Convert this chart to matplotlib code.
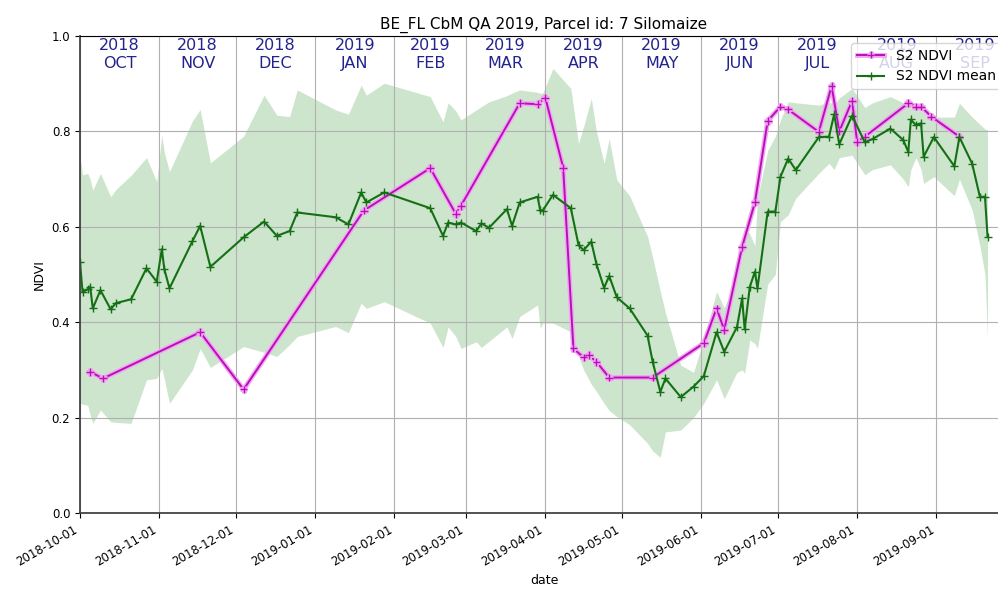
import matplotlib
matplotlib.use('Agg')
import matplotlib.pyplot as plt
import matplotlib.dates as mdates
import matplotlib.patheffects as pe
import pandas as pd

# S2 NDVI mean of the parcel, with the spread band around it
mean_dates = ['2018-10-01', '2018-10-02', '2018-10-04', '2018-10-05', '2018-10-06',
              '2018-10-09', '2018-10-13', '2018-10-15', '2018-10-21', '2018-10-27',
              '2018-10-31', '2018-11-02', '2018-11-03', '2018-11-05', '2018-11-14',
              '2018-11-17', '2018-11-21', '2018-12-04', '2018-12-12', '2018-12-17',
              '2018-12-22', '2018-12-25', '2019-01-09', '2019-01-14', '2019-01-19',
              '2019-01-21', '2019-01-28', '2019-02-15', '2019-02-20', '2019-02-22',
              '2019-02-25', '2019-02-27', '2019-03-05', '2019-03-07', '2019-03-10',
              '2019-03-17', '2019-03-19', '2019-03-22', '2019-03-29', '2019-03-30',
              '2019-03-31', '2019-04-04', '2019-04-11', '2019-04-14', '2019-04-16',
              '2019-04-19', '2019-04-21', '2019-04-24', '2019-04-26', '2019-04-29',
              '2019-05-04', '2019-05-11', '2019-05-13', '2019-05-16', '2019-05-18',
              '2019-05-24', '2019-05-29', '2019-06-02', '2019-06-07', '2019-06-10',
              '2019-06-15', '2019-06-17', '2019-06-18', '2019-06-20', '2019-06-22',
              '2019-06-23', '2019-06-27', '2019-06-30', '2019-07-02', '2019-07-05',
              '2019-07-08', '2019-07-17', '2019-07-21', '2019-07-23', '2019-07-25',
              '2019-07-30', '2019-08-04', '2019-08-07', '2019-08-14', '2019-08-19',
              '2019-08-21', '2019-08-22', '2019-08-24', '2019-08-26', '2019-08-27',
              '2019-08-31', '2019-09-08', '2019-09-10', '2019-09-15', '2019-09-18',
              '2019-09-20', '2019-09-21']
ndvi_mean = [0.526, 0.463, 0.469, 0.474, 0.429, 0.467, 0.427, 0.440, 0.448, 0.513,
             0.485, 0.553, 0.511, 0.471, 0.570, 0.602, 0.516, 0.578, 0.611, 0.581,
             0.591, 0.630, 0.620, 0.605, 0.672, 0.651, 0.672, 0.639, 0.581, 0.609,
             0.605, 0.609, 0.591, 0.607, 0.598, 0.637, 0.602, 0.651, 0.663, 0.635,
             0.634, 0.667, 0.639, 0.562, 0.551, 0.569, 0.522, 0.472, 0.497, 0.452,
             0.429, 0.372, 0.317, 0.254, 0.282, 0.243, 0.265, 0.287, 0.379, 0.338,
             0.390, 0.450, 0.385, 0.474, 0.506, 0.471, 0.632, 0.632, 0.705, 0.743,
             0.719, 0.788, 0.789, 0.836, 0.773, 0.833, 0.777, 0.784, 0.806, 0.782,
             0.757, 0.825, 0.813, 0.817, 0.747, 0.788, 0.727, 0.788, 0.732, 0.663,
             0.663, 0.579]
ndvi_upper = [0.747, 0.709, 0.712, 0.700, 0.677, 0.712, 0.663, 0.678, 0.708, 0.745,
              0.695, 0.792, 0.756, 0.716, 0.822, 0.846, 0.734, 0.790, 0.876, 0.834,
              0.831, 0.887, 0.845, 0.836, 0.897, 0.876, 0.901, 0.873, 0.820, 0.860,
              0.843, 0.824, 0.845, 0.852, 0.862, 0.875, 0.880, 0.887, 0.882, 0.880,
              0.880, 0.932, 0.890, 0.775, 0.810, 0.869, 0.800, 0.733, 0.785, 0.698,
              0.665, 0.580, 0.536, 0.465, 0.420, 0.310, 0.295, 0.365, 0.464, 0.430,
              0.500, 0.538, 0.600, 0.585, 0.560, 0.660, 0.760, 0.790, 0.824, 0.862,
              0.860, 0.855, 0.862, 0.855, 0.870, 0.890, 0.850, 0.860, 0.873, 0.860,
              0.855, 0.853, 0.850, 0.845, 0.840, 0.830, 0.830, 0.859, 0.830, 0.815,
              0.805, 0.803]
ndvi_lower = [0.230, 0.228, 0.226, 0.205, 0.188, 0.216, 0.191, 0.190, 0.188, 0.279,
              0.282, 0.303, 0.280, 0.230, 0.300, 0.345, 0.305, 0.349, 0.337, 0.328,
              0.353, 0.370, 0.391, 0.378, 0.440, 0.429, 0.443, 0.398, 0.347, 0.390,
              0.370, 0.345, 0.359, 0.347, 0.360, 0.390, 0.366, 0.412, 0.436, 0.387,
              0.398, 0.398, 0.380, 0.330, 0.300, 0.270, 0.255, 0.230, 0.215, 0.202,
              0.185, 0.146, 0.130, 0.117, 0.170, 0.174, 0.200, 0.230, 0.279, 0.240,
              0.295, 0.300, 0.293, 0.363, 0.355, 0.345, 0.480, 0.500, 0.611, 0.625,
              0.660, 0.712, 0.733, 0.720, 0.745, 0.750, 0.709, 0.720, 0.730, 0.700,
              0.684, 0.720, 0.745, 0.720, 0.691, 0.705, 0.665, 0.700, 0.635, 0.560,
              0.500, 0.363]

# S2 NDVI of the parcel itself
parcel_dates = ['2018-10-05', '2018-10-10', '2018-11-17', '2018-12-04', '2019-01-20',
                '2019-02-15', '2019-02-25', '2019-02-27', '2019-03-22', '2019-03-29',
                '2019-04-01', '2019-04-08', '2019-04-12', '2019-04-16', '2019-04-18',
                '2019-04-21', '2019-04-26', '2019-05-13', '2019-06-02', '2019-06-07',
                '2019-06-10', '2019-06-17', '2019-06-22', '2019-06-27', '2019-07-02',
                '2019-07-05', '2019-07-17', '2019-07-22', '2019-07-25', '2019-07-30',
                '2019-08-01', '2019-08-04', '2019-08-21', '2019-08-24', '2019-08-26',
                '2019-08-30', '2019-09-10']
ndvi_parcel = [0.296, 0.282, 0.379, 0.259, 0.634, 0.723, 0.627, 0.644, 0.859, 0.857,
               0.871, 0.724, 0.345, 0.326, 0.331, 0.317, 0.284, 0.284, 0.356, 0.429,
               0.384, 0.558, 0.651, 0.822, 0.852, 0.846, 0.799, 0.895, 0.800, 0.864,
               0.778, 0.789, 0.859, 0.852, 0.852, 0.831, 0.789]

month_starts = pd.date_range('2018-10-01', '2019-10-01', freq='MS')

mean_dates = pd.to_datetime(mean_dates)
parcel_dates = pd.to_datetime(parcel_dates)

fig = plt.figure(figsize=(9.98, 5.9), dpi=100)
ax = fig.add_axes([80 / 998, 77 / 590, 928 / 998, 477 / 590])

ax.fill_between(mean_dates, ndvi_lower, ndvi_upper, color='green', alpha=0.2, lw=0)
ax.plot(parcel_dates, ndvi_parcel, color='#b810b8', marker='+', ms=5.5, lw=1.4,
        label='S2 NDVI',
        path_effects=[pe.Stroke(linewidth=3.5, foreground='#f2a6f2'), pe.Normal()])
ax.plot(mean_dates, ndvi_mean, color='#157015', marker='+', ms=5.5, lw=1.5,
        label='S2 NDVI mean')

# year / month labels across the top of every month
for start, end in zip(month_starts[:-1], month_starts[1:]):
    mid = start + (end - start) / 2
    ax.text(mid, 0.995, '{}\n{}'.format(start.year, start.strftime('%b').upper()),
            transform=ax.get_xaxis_transform(), ha='center', va='top',
            fontsize=11.5, color='#23238e')

ax.set_xlim(pd.Timestamp('2018-10-01'), pd.Timestamp('2019-09-29'))
ax.set_ylim(0, 1)
ax.set_yticks([0.0, 0.2, 0.4, 0.6, 0.8, 1.0])
ax.xaxis.set_major_locator(mdates.MonthLocator())
ax.xaxis.set_major_formatter(mdates.DateFormatter('%Y-%m-%d'))
ax.tick_params(labelsize=8.5)
for lbl in ax.get_xticklabels():
    lbl.set_rotation(30)
    lbl.set_ha('right')

ax.grid(True, color='#b0b0b0', lw=0.8)
for side in ['left', 'bottom']:
    ax.spines[side].set_linewidth(1.3)
    ax.spines[side].set_color('#444444')

ax.set_title('BE_FL CbM QA 2019, Parcel id: 7 Silomaize', fontsize=11, pad=5)
ax.set_xlabel('date', fontsize=9)
ax.set_ylabel('NDVI', fontsize=9)
ax.legend(loc='upper right', fontsize=10)

fig.savefig('out.png', dpi=100)
